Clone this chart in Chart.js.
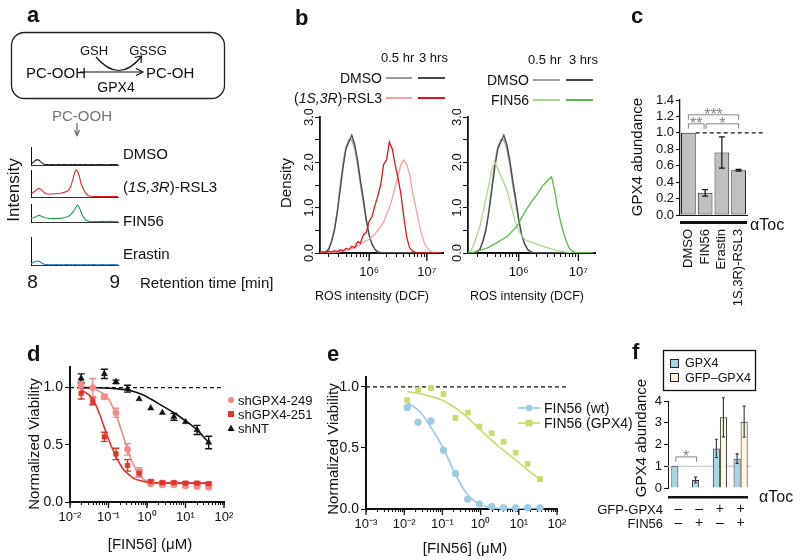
<!DOCTYPE html>
<html><head><meta charset="utf-8">
<script src="https://cdn.jsdelivr.net/npm/chart.js@4.4.1/dist/chart.umd.min.js"></script>
<style>
html,body{margin:0;padding:0;background:#fff}
#stage{position:relative;width:800px;height:560px;overflow:hidden;font-family:'Liberation Sans',Arial,Helvetica,sans-serif;color:#111}
.t{position:absolute;white-space:nowrap;line-height:1}
canvas{position:absolute}
svg{position:absolute;left:0;top:0}
</style></head>
<body><div id="stage"></div>
<script>
// ================= DATA =================
// panel a: chromatograms (fraction of each panel's height)
const retTime = [7.98,8.00,8.03,8.05,8.08,8.10,8.13,8.15,8.18,8.20,8.23,8.25,8.28,8.30,8.33,8.35,8.38,8.40,8.43,8.45,8.47,8.49,8.51,8.53,8.55,8.57,8.59,8.61,8.63,8.65,8.68,8.70,8.73,8.75,8.80,8.85,8.90,8.95,9.00,9.04];
const chromDMSO = [0.03,0.12,0.24,0.30,0.26,0.16,0.07,0.03,0.02,0.01,0.02,0.02,0.01,0.02,0.02,0.01,0.02,0.02,0.01,0.02,0.02,0.01,0.02,0.02,0.01,0.02,0.02,0.01,0.02,0.02,0.01,0.02,0.02,0.01,0.02,0.02,0.01,0.02,0.02,0.01];
const chromRSL3 = [0.12,0.15,0.22,0.28,0.32,0.28,0.2,0.14,0.11,0.1,0.11,0.12,0.12,0.13,0.14,0.15,0.17,0.19,0.23,0.3,0.45,0.65,0.9,1.0,0.93,0.75,0.5,0.35,0.22,0.12,0.05,0.03,0.03,0.02,0.03,0.02,0.03,0.02,0.03,0.02];
const chromFIN56 = [0.2,0.22,0.26,0.32,0.38,0.34,0.28,0.24,0.22,0.2,0.19,0.2,0.19,0.2,0.2,0.21,0.24,0.26,0.3,0.36,0.45,0.55,0.68,0.85,0.95,0.78,0.55,0.35,0.2,0.1,0.05,0.04,0.03,0.03,0.03,0.04,0.03,0.04,0.03,0.04];
const chromErastin = [0.04,0.08,0.12,0.14,0.13,0.09,0.04,0.02,0.02,0.01,0.02,0.01,0.02,0.02,0.01,0.02,0.01,0.02,0.02,0.01,0.02,0.01,0.02,0.02,0.01,0.02,0.01,0.02,0.02,0.01,0.02,0.01,0.02,0.02,0.01,0.02,0.01,0.02,0.02,0.01];
const retTickVals = [8, 9];

// panel b: ROS histograms
const dcf = [1.41e5,1.58e5,1.78e5,2.00e5,2.24e5,2.51e5,2.82e5,3.16e5,3.55e5,3.98e5,4.47e5,5.01e5,5.62e5,6.31e5,7.08e5,7.94e5,8.91e5,1.00e6,1.12e6,1.26e6,1.41e6,1.58e6,1.78e6,2.00e6,2.24e6,2.51e6,2.82e6,3.16e6,3.55e6,3.98e6,4.47e6,5.01e6,5.62e6,6.31e6,7.08e6,7.94e6,8.91e6,1.00e7,1.12e7,1.26e7,1.41e7,1.58e7,1.78e7];
const rosDMSO05L = [0,0,0.03,0.1,0.28,0.55,0.95,1.5,2.0,2.35,2.5,2.5,2.3,1.95,1.5,1.1,0.7,0.38,0.18,0.07,0.02,0.01,0,0,0,0,0,0,0,0,0,0,0,0,0,0,0,0,0,0,0,0,0];
const rosDMSO3L  = [0,0,0.02,0.08,0.25,0.5,0.9,1.4,1.9,2.3,2.45,2.6,2.4,2.05,1.6,1.2,0.75,0.4,0.2,0.08,0.03,0.01,0,0,0,0,0,0,0,0,0,0,0,0,0,0,0,0,0,0,0,0,0];
const rosRSL305  = [0,0,0,0.01,0.01,0.02,0.02,0.03,0.04,0.05,0.07,0.09,0.12,0.15,0.19,0.23,0.27,0.3,0.36,0.42,0.5,0.58,0.68,0.85,1.0,1.2,1.45,1.7,1.95,2.05,1.95,1.75,1.35,1.05,0.75,0.45,0.25,0.12,0.05,0.02,0,0,0];
const rosRSL33   = [0.02,0.03,0.01,0.04,0.02,0.05,0.03,0.07,0.05,0.1,0.08,0.15,0.12,0.25,0.22,0.4,0.45,0.7,0.8,1.05,1.25,1.5,1.95,2.05,2.45,2.3,1.95,1.65,1.3,0.8,0.35,0.12,0.04,0.02,0.01,0,0,0,0,0,0,0,0];
const rosDMSO05R = [0,0,0.01,0.03,0.1,0.28,0.55,0.95,1.5,2.0,2.35,2.5,2.5,2.3,1.95,1.5,1.1,0.7,0.38,0.18,0.07,0.02,0.01,0,0,0,0,0,0,0,0,0,0,0,0,0,0,0,0,0,0,0,0];
const rosDMSO3R  = [0,0,0,0.02,0.08,0.25,0.5,0.9,1.4,1.9,2.3,2.45,2.6,2.4,2.05,1.6,1.2,0.75,0.4,0.2,0.08,0.03,0.01,0,0,0,0,0,0,0,0,0,0,0,0,0,0,0,0,0,0,0,0];
const rosFIN05   = [0,0.05,0.2,0.4,0.6,0.9,1.2,1.5,1.85,2.0,1.85,1.7,1.55,1.4,1.15,0.9,0.65,0.5,0.38,0.3,0.27,0.24,0.22,0.2,0.17,0.15,0.13,0.11,0.09,0.07,0.05,0.04,0.03,0.02,0.01,0,0,0,0,0,0,0,0];
const rosFIN3    = [0,0,0.02,0.04,0.06,0.08,0.1,0.13,0.17,0.2,0.24,0.28,0.32,0.36,0.42,0.5,0.56,0.65,0.78,0.9,1.0,1.1,1.2,1.28,1.38,1.48,1.55,1.62,1.68,1.4,1.0,0.7,0.45,0.25,0.1,0.04,0.01,0,0,0,0,0,0];
const rosDecades = [1e5, 1e6, 1e7];
const rosTickVals = [1e6, 1e7];
const rosTickText = ['10\u2076', '10\u2077'];
const densityTicks = [0, 0.5, 1, 1.5, 2, 2.5, 3];

// panel c
const cCats = ['DMSO', 'FIN56', 'Erastin', '(1S,3R)-RSL3'];
const cVals = [1.0, 0.27, 0.76, 0.545];
const cErr  = [0, 0.04, 0.19, 0.01];
const cYTicks = [0, 0.2, 0.4, 0.6, 0.8, 1.0, 1.2, 1.4];
const cSig = [
  {from: 0, to: 3, y: 1.22, leg: 1.16, label: '***'},
  {from: 0, to: 1, y: 1.11, leg: 1.05, label: '**'},
  {from: 1, to: 3, y: 1.11, leg: 1.05, label: '*'}
];

// panel d
const dConc   = [0.0195, 0.039, 0.078, 0.156, 0.3125, 0.625, 1.25, 2.5, 5, 10, 20, 40];
const d249    = [1.02, 1.00, 0.92, 0.78, 0.46, 0.26, 0.16, 0.15, 0.15, 0.14, 0.135, 0.13];
const d249Err = [0.03, 0.08, 0.02, 0.04, 0.05, 0.04, 0.01, 0.01, 0.01, 0.01, 0.01, 0.01];
const d251    = [0.95, 0.88, 0.57, 0.42, 0.32, 0.25, 0.18, 0.17, 0.17, 0.165, 0.165, 0.16];
const d251Err = [0.05, 0.03, 0.04, 0.05, 0.05, 0.03, 0.01, 0.01, 0.01, 0.01, 0.01, 0.01];
const dNT     = [1.08, null, 1.12, 1.05, 0.99, 0.90, 0.82, 0.78, 0.745, 0.70, 0.63, 0.52];
const dNTErr  = [0.04, 0, 0.04, 0.015, 0.03, 0, 0, 0, 0.03, 0, 0.04, 0.055];
const dFitX   = [0.0195, 0.039, 0.06, 0.078, 0.1, 0.125, 0.156, 0.2, 0.25, 0.3125, 0.4, 0.5, 0.625, 0.8, 1.25, 2.5, 5, 10, 20, 40];
const dFit249 = [1.0, 0.99, 0.965, 0.94, 0.90, 0.84, 0.77, 0.66, 0.56, 0.46, 0.36, 0.29, 0.24, 0.2, 0.175, 0.165, 0.165, 0.165, 0.165, 0.165];
const dFit251 = [0.98, 0.90, 0.76, 0.65, 0.55, 0.47, 0.40, 0.33, 0.28, 0.25, 0.22, 0.2, 0.19, 0.18, 0.17, 0.165, 0.165, 0.165, 0.165, 0.165];
const dFitNT  = [1.0, 0.999, 0.998, 0.997, 0.995, 0.993, 0.99, 0.987, 0.983, 0.978, 0.97, 0.962, 0.95, 0.935, 0.90, 0.84, 0.78, 0.71, 0.63, 0.52];
const dDecades = [0.01, 0.1, 1, 10, 100];
const dDecadeText = ['10\u207B\u00B2', '10\u207B\u00B9', '10\u2070', '10\u00B9', '10\u00B2'];
const viabTicks = [0, 0.5, 1.0];

// panel e
const eConc  = [0.012, 0.023, 0.05, 0.107, 0.22, 0.46, 0.93, 1.95, 4.0, 8.3, 17, 36];
const eWT    = [0.83, 0.71, 0.72, 0.48, 0.29, 0.08, 0.04, 0.02, 0.01, 0.01, 0.01, 0.01];
const eGPX4  = [0.89, 0.975, 0.99, 0.94, 0.745, 0.79, 0.675, 0.62, 0.55, 0.46, 0.37, 0.245];
const eFitX  = [0.012, 0.025, 0.05, 0.1, 0.2, 0.4, 0.8, 1.6, 4, 8.3, 17, 36];
const eFitWT = [0.87, 0.80, 0.67, 0.51, 0.31, 0.14, 0.05, 0.015, 0.003, 0.001, 0, 0];
const eFitGPX4 = [0.96, 0.945, 0.92, 0.89, 0.835, 0.765, 0.675, 0.585, 0.48, 0.40, 0.32, 0.24];
const eDecades = [0.001, 0.01, 0.1, 1, 10, 100];
const eDecadeText = ['10\u207B\u00B3', '10\u207B\u00B2', '10\u207B\u00B9', '10\u2070', '10\u00B9', '10\u00B2'];

// panel f
const fGFPRow = ['\u2013', '\u2013', '+', '+'];
const fFINRow = ['\u2013', '+', '\u2013', '+'];
const fGPX4    = [1.0, 0.37, 1.82, 1.35];
const fGPX4Err = [0, 0.13, 0.42, 0.22];
const fGFP     = [null, null, 3.25, 3.05];
const fGFPErr  = [0, 0, 0.9, 0.72];
const fYTicks  = [0, 1, 2, 3, 4];

// ================= HELPERS =================
const FONT = "'Liberation Sans', Arial, Helvetica, sans-serif";
Chart.defaults.font.family = FONT;
Chart.defaults.color = '#111';
const stage = document.getElementById('stage');

function makeChart(a, wy, hx, p, cfg) {
  const L = a.l - wy - p.l, T = a.t - p.t;
  const W = (a.r - a.l) + wy + p.l + p.r, H = (a.b - a.t) + hx + p.t + p.b;
  const cv = document.createElement('canvas');
  cv.width = W; cv.height = H;
  cv.style.left = L + 'px'; cv.style.top = T + 'px';
  cv.style.width = W + 'px'; cv.style.height = H + 'px';
  stage.appendChild(cv);
  const o = cfg.options = cfg.options || {};
  o.responsive = false; o.maintainAspectRatio = false; o.animation = false; o.devicePixelRatio = 1;
  o.events = [];
  o.layout = {padding: {left: p.l, top: p.t, right: p.r, bottom: p.b}};
  o.plugins = Object.assign({legend: {display: false}, tooltip: {enabled: false}}, o.plugins || {});
  o.scales.x.afterFit = s => { s.height = hx; s.paddingLeft = 0; s.paddingRight = 0; };
  o.scales.y.afterFit = s => { s.width = wy; s.paddingTop = 0; s.paddingBottom = 0; };
  return new Chart(cv, cfg);
}
function xy(xs, ys) { return xs.map((x, i) => ({x: x, y: ys[i]})); }
function logTicks(decades) {
  const out = [];
  decades.forEach((d, k) => {
    if (k === decades.length - 1) { out.push(d); return; }
    for (let m = 1; m <= 9; m++) out.push(+(m * d).toPrecision(6));
  });
  return out;
}
function labelFor(vals, texts) {
  return v => { for (let i = 0; i < vals.length; i++) if (Math.abs(v / vals[i] - 1) < 1e-6) return texts[i]; return ''; };
}
function drawErr(chart, di, errs, color, capW, lw) {
  const meta = chart.getDatasetMeta(di), ys = chart.scales.y, ctx = chart.ctx;
  const data = chart.data.datasets[di].data;
  ctx.save(); ctx.strokeStyle = color; ctx.lineWidth = lw;
  meta.data.forEach((el, i) => {
    let v = data[i]; if (v && typeof v === 'object') v = v.y;
    const e = errs[i];
    if (!e || v == null) return;
    const x = el.x, y1 = ys.getPixelForValue(v + e), y2 = ys.getPixelForValue(v - e);
    ctx.beginPath();
    ctx.moveTo(x, y1); ctx.lineTo(x, y2);
    if (capW > 0) {
      ctx.moveTo(x - capW / 2, y1); ctx.lineTo(x + capW / 2, y1);
      ctx.moveTo(x - capW / 2, y2); ctx.lineTo(x + capW / 2, y2);
    }
    ctx.stroke();
  });
  ctx.restore();
}
function majorTicks(chart, vals, len) {
  const ctx = chart.ctx, xs = chart.scales.x, ca = chart.chartArea;
  ctx.save(); ctx.strokeStyle = '#111'; ctx.lineWidth = 1.3;
  vals.forEach(v => {
    if (v < xs.min * 0.999 || v > xs.max * 1.001) return;
    const x = xs.getPixelForValue(v);
    ctx.beginPath(); ctx.moveTo(x, ca.bottom); ctx.lineTo(x, ca.bottom + len); ctx.stroke();
  });
  ctx.restore();
}
function dashedAt(chart, v, x0, x1) {
  const ctx = chart.ctx, y = chart.scales.y.getPixelForValue(v);
  ctx.save(); ctx.setLineDash([4, 3]); ctx.strokeStyle = '#111'; ctx.lineWidth = 1.2;
  ctx.beginPath(); ctx.moveTo(x0, y); ctx.lineTo(x1, y); ctx.stroke(); ctx.restore();
}
function bracket(ctx, x0, x1, y, yLeg, label, color) {
  ctx.save(); ctx.strokeStyle = color; ctx.fillStyle = color; ctx.lineWidth = 1;
  ctx.beginPath(); ctx.moveTo(x0, yLeg); ctx.lineTo(x0, y); ctx.lineTo(x1, y); ctx.lineTo(x1, yLeg); ctx.stroke();
  ctx.font = '16px ' + FONT; ctx.textAlign = 'center'; ctx.textBaseline = 'alphabetic';
  ctx.fillText(label, (x0 + x1) / 2, y + 5);
  ctx.restore();
}
function txt(html, x, y, o) {
  o = o || {};
  const d = document.createElement('div');
  d.className = 't'; d.innerHTML = html;
  d.style.fontSize = (o.size || 14) + 'px';
  if (o.color) d.style.color = o.color;
  if (o.bold) d.style.fontWeight = '700';
  d.style.left = x + 'px'; d.style.top = y + 'px';
  const ax = o.align === 'center' ? '-50%' : (o.align === 'right' ? '-100%' : '0');
  d.style.transform = o.rot ? 'translate(-50%,-50%) rotate(-90deg)' : 'translate(' + ax + ',-50%)';
  stage.appendChild(d);
}
const tickGrid = (len) => ({display: true, drawOnChartArea: false, drawTicks: true, tickLength: len, color: '#111', tickColor: '#111', tickWidth: 1.1});

// ================= PANEL a =================
const chromPanels = [
  {vals: chromDMSO,    color: '#222222', a: {l: 31, t: 147, r: 118, b: 165}},
  {vals: chromRSL3,    color: '#d9262b', a: {l: 31, t: 170, r: 118, b: 197}},
  {vals: chromFIN56,   color: '#1f9c50', a: {l: 31, t: 204, r: 118, b: 222}},
  {vals: chromErastin, color: '#2f7ec0', a: {l: 31, t: 237, r: 118, b: 265}}
];
chromPanels.forEach((pn, k) => {
  const last = k === chromPanels.length - 1;
  makeChart(pn.a, 0, last ? 26 : 0, {l: 3, t: 3, r: 5, b: last ? 0 : 3}, {
    type: 'line',
    data: {datasets: [{data: xy(retTime, pn.vals), borderColor: pn.color, borderWidth: 1.1, pointRadius: 0, tension: 0, clip: false}]},
    options: {scales: {
      x: {type: 'linear', min: 7.98, max: 9.04, grid: {display: false, drawTicks: false},
          border: {display: true, color: '#333', width: 1},
          ticks: {display: last, font: {size: 19}, padding: 6, autoSkip: false, maxRotation: 0, callback: v => String(v)},
          afterBuildTicks: s => { s.ticks = retTickVals.map(v => ({value: v})); }},
      y: {min: 0, max: 1, grid: {display: false, drawTicks: false}, border: {display: true, color: '#111', width: 1},
          ticks: {display: false}}
    }}
  });
});

// ================= PANEL b =================
const bTickList = logTicks(rosDecades).filter(v => v >= 2e5 && v <= 1e7);
function bChart(a, sets) {
  return makeChart(a, 24, 28, {l: 4, t: 8, r: 6, b: 2}, {
    type: 'line',
    data: {datasets: sets.map(s => ({data: xy(dcf, s.v), borderColor: s.c, borderWidth: 1.3, pointRadius: 0, tension: 0}))},
    options: {scales: {
      x: {type: 'logarithmic', min: 1.41e5, max: 1.9e7, grid: tickGrid(4), border: {display: true, color: '#111', width: 2},
          ticks: {font: {size: 13}, padding: 8, autoSkip: false, maxRotation: 0, callback: labelFor(rosTickVals, rosTickText)},
          afterBuildTicks: s => { s.ticks = bTickList.map(v => ({value: v})); }},
      y: {min: 0, max: 3, grid: tickGrid(5), border: {display: true, color: '#111', width: 1.8},
          ticks: {font: {size: 13}, padding: -3, minRotation: 90, maxRotation: 90, crossAlign: 'center', autoSkip: false,
                  callback: v => Number.isInteger(v) ? v.toFixed(1) : ''},
          afterBuildTicks: s => { s.ticks = densityTicks.map(v => ({value: v})); }}
    }},
    plugins: [{id: 'maj', afterDraw: c => majorTicks(c, rosTickVals, 8)}]
  });
}
bChart({l: 320, t: 117, r: 443, b: 253}, [
  {v: rosRSL33, c: '#e3131e'}, {v: rosRSL305, c: '#f2a3a3'}, {v: rosDMSO3L, c: '#4a4a4a'}, {v: rosDMSO05L, c: '#9b9b9b'}
]);
bChart({l: 468, t: 117, r: 595, b: 253}, [
  {v: rosFIN3, c: '#5cb946'}, {v: rosFIN05, c: '#a9d98f'}, {v: rosDMSO3R, c: '#4a4a4a'}, {v: rosDMSO05R, c: '#9b9b9b'}
]);

// ================= PANEL c =================
makeChart({l: 680, t: 100, r: 747, b: 215}, 42, 92, {l: 2, t: 8, r: 22, b: 0}, {
  type: 'bar',
  data: {labels: cCats, datasets: [{data: cVals, backgroundColor: '#c0c0c0', borderColor: '#222', borderWidth: 1,
          borderSkipped: false, barPercentage: 0.88, categoryPercentage: 1}]},
  options: {scales: {
    x: {grid: {display: false, drawTicks: false}, border: {display: true, color: '#111', width: 1},
        ticks: {font: {size: 13}, padding: 14, minRotation: 90, maxRotation: 90, autoSkip: false}},
    y: {min: 0, max: 1.4, grid: tickGrid(4), border: {display: true, color: '#111', width: 1.3},
        ticks: {font: {size: 13}, padding: 2, autoSkip: false, callback: v => v.toFixed(1)},
        afterBuildTicks: s => { s.ticks = cYTicks.map(v => ({value: v})); }}
  }},
  plugins: [{id: 'cMarks', afterDatasetsDraw(chart) {
    const ctx = chart.ctx, ys = chart.scales.y, meta = chart.getDatasetMeta(0), ca = chart.chartArea;
    drawErr(chart, 0, cErr, '#111', 6, 1.2);
    const b0 = meta.data[0];
    dashedAt(chart, 1.0, b0.x + b0.width / 2, ca.right + 18);
    cSig.forEach(s => {
      const x0 = meta.data[s.from].x + (s.from === 1 ? 1 : 0), x1 = meta.data[s.to].x - (s.to === 1 ? 1 : 0);
      bracket(ctx, x0, x1, ys.getPixelForValue(s.y), ys.getPixelForValue(s.leg), s.label, '#858585');
    });
    ctx.save(); ctx.fillStyle = '#111'; ctx.fillRect(ca.left, ca.bottom + 6, ca.right - ca.left, 3); ctx.restore();
  }}]
});

// ================= PANEL d =================
makeChart({l: 70, t: 367, r: 224, b: 502}, 36, 30, {l: 4, t: 8, r: 14, b: 2}, {
  type: 'scatter',
  data: {datasets: [
    {data: xy(dConc, dNT),  pointStyle: 'triangle', pointRadius: 3.6, backgroundColor: '#111', borderColor: '#111', borderWidth: 0.5, clip: false},
    {data: xy(dConc, d251), pointStyle: 'rect', pointRadius: 3.3, backgroundColor: '#e2332b', borderColor: '#e2332b', borderWidth: 0.5, clip: false},
    {data: xy(dConc, d249), pointStyle: 'circle', pointRadius: 3.2, backgroundColor: '#f08c88', borderColor: '#f08c88', borderWidth: 0.5, clip: false},
    {type: 'line', data: xy(dFitX, dFitNT),  borderColor: '#111', borderWidth: 1.6, pointRadius: 0, cubicInterpolationMode: 'monotone'},
    {type: 'line', data: xy(dFitX, dFit251), borderColor: '#e2332b', borderWidth: 1.6, pointRadius: 0, cubicInterpolationMode: 'monotone'},
    {type: 'line', data: xy(dFitX, dFit249), borderColor: '#f08c88', borderWidth: 1.6, pointRadius: 0, cubicInterpolationMode: 'monotone'}
  ]},
  options: {scales: {
    x: {type: 'logarithmic', min: 0.01, max: 100, grid: tickGrid(3), border: {display: true, color: '#111', width: 2},
        ticks: {font: {size: 13}, padding: 5, autoSkip: false, maxRotation: 0, callback: labelFor(dDecades, dDecadeText)},
        afterBuildTicks: s => { s.ticks = logTicks(dDecades).map(v => ({value: v})); }},
    y: {min: 0, max: 1.18, grid: tickGrid(5), border: {display: true, color: '#111', width: 2},
        ticks: {font: {size: 14}, padding: 2, autoSkip: false, callback: v => v.toFixed(1)},
        afterBuildTicks: s => { s.ticks = viabTicks.map(v => ({value: v})); }}
  }},
  plugins: [{id: 'dMarks',
    beforeDatasetsDraw(chart) {
      const ca = chart.chartArea;
      dashedAt(chart, 1.0, ca.left, ca.right);
      drawErr(chart, 0, dNTErr, '#111', 7, 1.4);
      drawErr(chart, 1, d251Err, '#e2332b', 7, 1.4);
      drawErr(chart, 2, d249Err, '#f08c88', 7, 1.4);
    },
    afterDraw: c => majorTicks(c, dDecades, 6)}]
});

// ================= PANEL e =================
makeChart({l: 366, t: 377, r: 557, b: 509}, 36, 30, {l: 4, t: 8, r: 14, b: 2}, {
  type: 'scatter',
  data: {datasets: [
    {data: xy(eConc, eWT),   pointStyle: 'circle', pointRadius: 3.3, backgroundColor: '#9ecbe4', borderColor: '#9ecbe4', clip: false},
    {data: xy(eConc, eGPX4), pointStyle: 'rect',   pointRadius: 3.4, backgroundColor: '#c9dd6c', borderColor: '#c9dd6c', clip: false},
    {type: 'line', data: xy(eFitX, eFitWT),   borderColor: '#9ecbe4', borderWidth: 1.7, pointRadius: 0, cubicInterpolationMode: 'monotone'},
    {type: 'line', data: xy(eFitX, eFitGPX4), borderColor: '#c9dd6c', borderWidth: 1.7, pointRadius: 0, cubicInterpolationMode: 'monotone'}
  ]},
  options: {scales: {
    x: {type: 'logarithmic', min: 0.001, max: 100, grid: tickGrid(3), border: {display: true, color: '#111', width: 2},
        ticks: {font: {size: 13}, padding: 5, autoSkip: false, maxRotation: 0, callback: labelFor(eDecades, eDecadeText)},
        afterBuildTicks: s => { s.ticks = logTicks(eDecades).map(v => ({value: v})); }},
    y: {min: 0, max: 1.08, grid: tickGrid(5), border: {display: true, color: '#111', width: 2},
        ticks: {font: {size: 14}, padding: 2, autoSkip: false, callback: v => v.toFixed(1)},
        afterBuildTicks: s => { s.ticks = viabTicks.map(v => ({value: v})); }}
  }},
  plugins: [{id: 'eMarks',
    beforeDatasetsDraw(chart) { const ca = chart.chartArea; dashedAt(chart, 1.0, ca.left, ca.right + 10); },
    afterDraw: c => majorTicks(c, eDecades, 6)}]
});

// ================= PANEL f =================
makeChart({l: 668, t: 401, r: 751, b: 488}, 22, 46, {l: 2, t: 8, r: 6, b: 2}, {
  type: 'bar',
  data: {labels: fGFPRow.map((g, i) => [g, fFINRow[i]]), datasets: [
    {data: fGPX4, backgroundColor: '#a9d6e3', borderColor: '#2a2a2a', borderWidth: 1, categoryPercentage: 0.68, barPercentage: 1},
    {data: fGFP,  backgroundColor: '#fbf6dc', borderColor: '#2a2a2a', borderWidth: 1, categoryPercentage: 0.68, barPercentage: 1}
  ]},
  options: {scales: {
    x: {grid: {display: false, drawTicks: false}, border: {display: false},
        ticks: {font: {size: 14, lineHeight: 1}, padding: 14, autoSkip: false, maxRotation: 0}},
    y: {min: 0, max: 4, grid: tickGrid(4), border: {display: true, color: '#111', width: 1},
        ticks: {font: {size: 13}, padding: 2, autoSkip: false, callback: v => String(v)},
        afterBuildTicks: s => { s.ticks = fYTicks.map(v => ({value: v})); }}
  }},
  plugins: [{id: 'fMarks',
    beforeDatasetsDraw(chart) {
      const ctx = chart.ctx, ca = chart.chartArea, y = chart.scales.y.getPixelForValue(1);
      ctx.save(); ctx.strokeStyle = '#c4c4c4'; ctx.lineWidth = 1;
      ctx.beginPath(); ctx.moveTo(ca.left, y); ctx.lineTo(ca.right, y); ctx.stroke(); ctx.restore();
    },
    afterDatasetsDraw(chart) {
      const ctx = chart.ctx, ca = chart.chartArea, ys = chart.scales.y, m = chart.getDatasetMeta(0);
      drawErr(chart, 0, fGPX4Err, '#333', 3, 1.1);
      drawErr(chart, 1, fGFPErr, '#333', 3, 1.1);
      bracket(ctx, m.data[0].x + 1, m.data[1].x + 1, ys.getPixelForValue(1.43), ys.getPixelForValue(1.2), '*', '#858585');
      ctx.save(); ctx.fillStyle = '#111'; ctx.fillRect(ca.left, ca.bottom + 8, ca.right - ca.left - 3, 2.5); ctx.restore();
    }}]
});

// ================= SHAPES (schematic, legend symbols) =================
stage.insertAdjacentHTML('beforeend', `
<svg width="800" height="560" viewBox="0 0 800 560">
  <rect x="11.5" y="32.5" width="213" height="66" rx="13" fill="none" stroke="#222" stroke-width="1.3"/>
  <line x1="80" y1="72" x2="142" y2="72" stroke="#111" stroke-width="1.2"/>
  <path d="M136,68.5 L143,72 L136,75.5" fill="none" stroke="#111" stroke-width="1.2"/>
  <path d="M96,57 Q119,84 141,57" fill="none" stroke="#111" stroke-width="1.2"/>
  <path d="M134.5,57.5 L141.5,56 L141,63" fill="none" stroke="#111" stroke-width="1.2"/>
  <line x1="77" y1="123" x2="77" y2="135" stroke="#666" stroke-width="1.2"/>
  <path d="M74.5,130 L77,135.5 L79.5,130" fill="none" stroke="#666" stroke-width="1.2"/>
  <line x1="386" y1="78" x2="412" y2="78" stroke="#9b9b9b" stroke-width="2"/>
  <line x1="418" y1="78" x2="445" y2="78" stroke="#4a4a4a" stroke-width="2"/>
  <line x1="386" y1="98" x2="412" y2="98" stroke="#f2a3a3" stroke-width="2"/>
  <line x1="418" y1="98" x2="445" y2="98" stroke="#e3131e" stroke-width="2"/>
  <line x1="533" y1="80" x2="560" y2="80" stroke="#9b9b9b" stroke-width="2"/>
  <line x1="566" y1="80" x2="593" y2="80" stroke="#4a4a4a" stroke-width="2"/>
  <line x1="533" y1="100" x2="560" y2="100" stroke="#a9d98f" stroke-width="2"/>
  <line x1="566" y1="100" x2="593" y2="100" stroke="#5cb946" stroke-width="2"/>
  <circle cx="231" cy="400" r="3" fill="#f08c88"/>
  <rect x="228" y="411" width="6" height="6" fill="#e2332b"/>
  <path d="M231,424.5 L234.5,431 L227.5,431 Z" fill="#111"/>
  <line x1="518" y1="408" x2="540" y2="408" stroke="#9ecbe4" stroke-width="1.7"/>
  <circle cx="529" cy="408" r="3.2" fill="#9ecbe4"/>
  <line x1="518" y1="423" x2="540" y2="423" stroke="#c9dd6c" stroke-width="1.7"/>
  <rect x="525.6" y="419.6" width="6.8" height="6.8" fill="#c9dd6c"/>
  <rect x="663.5" y="350.5" width="92" height="40" fill="none" stroke="#111" stroke-width="1.3"/>
  <rect x="670.5" y="359.5" width="8" height="8" fill="#a9d6e3" stroke="#222" stroke-width="1"/>
  <rect x="670.5" y="373.5" width="8" height="8" fill="#fbf6dc" stroke="#222" stroke-width="1"/>
</svg>`);

// ================= TEXT =================
txt('a', 27, 15, {size: 22, bold: true});
txt('b', 295, 18, {size: 22, bold: true});
txt('c', 631, 16, {size: 22, bold: true});
txt('d', 27, 354, {size: 22, bold: true});
txt('e', 327, 354, {size: 22, bold: true});
txt('f', 632, 352, {size: 22, bold: true});

txt('GSH', 94, 50, {size: 13, align: 'center'});
txt('GSSG', 148, 50, {size: 13, align: 'center'});
txt('PC-OOH', 26, 72, {size: 15});
txt('PC-OH', 146, 72, {size: 15});
txt('GPX4', 116, 87, {size: 14, align: 'center'});
txt('PC-OOH', 82, 115, {size: 15, align: 'center', color: '#777'});
txt('DMSO', 123, 153, {size: 15});
txt('(<i>1S,3R</i>)-RSL3', 123, 186, {size: 15});
txt('FIN56', 123, 220, {size: 15});
txt('Erastin', 123, 253, {size: 15});
txt('Intensity', 13, 190, {size: 17, rot: true});
txt('Retention time [min]', 140, 282, {size: 15});

txt('0.5 hr', 381, 57, {size: 13});
txt('3 hrs', 419, 57, {size: 13});
txt('DMSO', 382, 78, {size: 14, align: 'right'});
txt('(<i>1S,3R</i>)-RSL3', 382, 98, {size: 14, align: 'right'});
txt('0.5 hr', 528, 59, {size: 13});
txt('3 hrs', 569, 59, {size: 13});
txt('DMSO', 529, 80, {size: 14, align: 'right'});
txt('FIN56', 529, 100, {size: 14, align: 'right'});
txt('Density', 285, 183, {size: 15, rot: true});
txt('ROS intensity (DCF)', 372, 296, {size: 12.5, align: 'center'});
txt('ROS intensity (DCF)', 527, 296, {size: 12.5, align: 'center'});

txt('GPX4 abundance', 636, 157, {size: 15, rot: true});
txt('\u03B1Toc', 750, 225, {size: 16});

txt('Normalized Viability', 33, 444, {size: 15, rot: true});
txt('[FIN56] (\u03BCM)', 150, 543, {size: 15, align: 'center'});
txt('shGPX4-249', 238, 400, {size: 13});
txt('shGPX4-251', 238, 414, {size: 13});
txt('shNT', 238, 428, {size: 13});

txt('Normalized Viability', 332, 449, {size: 15, rot: true});
txt('[FIN56] (\u03BCM)', 465, 547, {size: 15, align: 'center'});
txt('FIN56 (wt)', 544, 408, {size: 14});
txt('FIN56 (GPX4)', 544, 423, {size: 14});

txt('GPX4', 685, 363, {size: 12.5});
txt('GFP\u2013GPX4', 685, 378, {size: 12.5});
txt('GPX4 abundance', 640, 438, {size: 15, rot: true});
txt('\u03B1Toc', 759, 497, {size: 16});
txt('GFP-GPX4', 663, 509, {size: 13, align: 'right'});
txt('FIN56', 663, 523, {size: 13, align: 'right'});
</script></body></html>
